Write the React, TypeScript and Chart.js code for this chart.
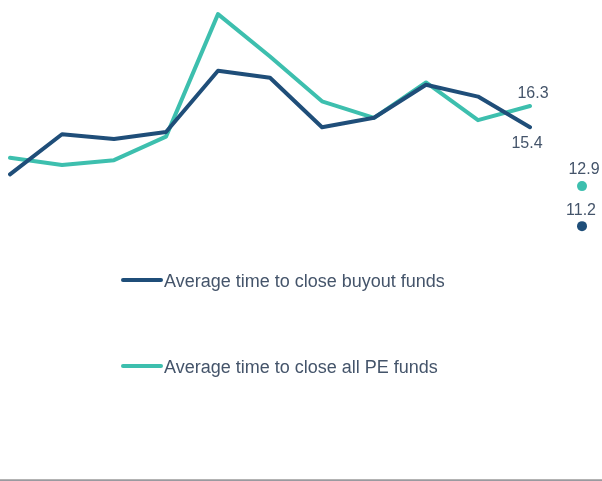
import React, { useEffect, useRef } from "react";
import { Chart, registerables } from "chart.js";

Chart.register(...registerables);

const categories = ["2011", "2012", "2013", "2014", "2015", "2016", "2017", "2018", "2019", "2020", "2021", "2022 YTD"];
const buyoutTimes = [13.4, 15.1, 14.9, 15.2, 17.8, 17.5, 15.4, 15.8, 17.2, 16.7, 15.4];
const allPeTimes = [14.1, 13.8, 14.0, 15.0, 20.2, 18.4, 16.5, 15.8, 17.3, 15.7, 16.3];
const latestBuyout = 11.2;
const latestAllPe = 12.9;
const seriesNames = ["Average time to close buyout funds", "Average time to close all PE funds"];

const NAVY = "#1f4e79";
const TEAL = "#3dbfae";
const TEXT = "#44546a";
const FONT = "'Liberation Sans', Arial, sans-serif";

const lastOnly = (v: number) => categories.map((_, i) => (i === categories.length - 1 ? v : null));

const labelPlugin = {
  id: "endLabels",
  afterDatasetsDraw(chart: any) {
    const ctx = chart.ctx;
    ctx.save();
    ctx.font = `16px ${FONT}`;
    ctx.fillStyle = TEXT;
    ctx.textAlign = "center";
    ctx.textBaseline = "alphabetic";
    chart.data.datasets.forEach((ds: any, di: number) => {
      if (!ds.endLabel) return;
      const meta = chart.getDatasetMeta(di);
      let idx = -1;
      ds.data.forEach((v: any, i: number) => {
        if (v !== null && v !== undefined) idx = i;
      });
      if (idx < 0) return;
      const el = meta.data[idx];
      const val = ds.data[idx];
      const { pos, dx, gap } = ds.endLabel;
      const y = pos === "above" ? el.y - gap : el.y + gap;
      ctx.fillText(val.toFixed(1), el.x + dx, y);
    });
    ctx.restore();
  },
};

const legendPlugin = {
  id: "midLegend",
  afterDraw(chart: any) {
    const ctx = chart.ctx;
    const items = [
      { color: NAVY, text: seriesNames[0], y: 280 },
      { color: TEAL, text: seriesNames[1], y: 366 },
    ];
    ctx.save();
    items.forEach((it) => {
      ctx.strokeStyle = it.color;
      ctx.lineWidth = 4;
      ctx.lineCap = "round";
      ctx.beginPath();
      ctx.moveTo(123, it.y);
      ctx.lineTo(161, it.y);
      ctx.stroke();
      ctx.font = `18px ${FONT}`;
      ctx.fillStyle = TEXT;
      ctx.textAlign = "left";
      ctx.textBaseline = "alphabetic";
      ctx.fillText(it.text, 164, it.y + 7);
    });
    // baseline axis rule across the full width
    ctx.fillStyle = "#b3b3b3";
    ctx.fillRect(0, 479, chart.width, 1);
    ctx.fillStyle = "#9a9aa0";
    ctx.fillRect(0, 480, chart.width, 1);
    ctx.restore();
  },
};

export default function App() {
  const ref = useRef<HTMLCanvasElement | null>(null);

  useEffect(() => {
    if (!ref.current) return;
    const chart = new Chart(ref.current, {
      type: "line",
      data: {
        labels: categories,
        datasets: [
          {
            label: seriesNames[0],
            data: buyoutTimes,
            borderColor: NAVY,
            backgroundColor: NAVY,
            borderWidth: 4,
            pointRadius: 0,
            tension: 0,
            borderCapStyle: "round",
            borderJoinStyle: "round",
            endLabel: { pos: "below", dx: -3, gap: 21 },
          } as any,
          {
            label: seriesNames[1],
            data: allPeTimes,
            borderColor: TEAL,
            backgroundColor: TEAL,
            borderWidth: 4,
            pointRadius: 0,
            tension: 0,
            borderCapStyle: "round",
            borderJoinStyle: "round",
            endLabel: { pos: "above", dx: 3, gap: 8 },
          } as any,
          {
            label: seriesNames[0] + " (latest)",
            data: lastOnly(latestBuyout),
            showLine: false,
            pointRadius: 5,
            pointBackgroundColor: NAVY,
            pointBorderColor: NAVY,
            pointBorderWidth: 0,
            endLabel: { pos: "above", dx: -1, gap: 11 },
          } as any,
          {
            label: seriesNames[1] + " (latest)",
            data: lastOnly(latestAllPe),
            showLine: false,
            pointRadius: 5,
            pointBackgroundColor: TEAL,
            pointBorderColor: TEAL,
            pointBorderWidth: 0,
            endLabel: { pos: "above", dx: 2, gap: 12 },
          } as any,
        ],
      },
      options: {
        responsive: false,
        animation: false,
        devicePixelRatio: 1,
        layout: { autoPadding: false, padding: { left: 10, right: 20, top: 0, bottom: 2 } },
        scales: {
          x: { display: false, offset: false },
          y: { display: false, min: 0, max: 20.8 },
        },
        plugins: {
          legend: { display: false },
          tooltip: { enabled: false },
        },
        elements: { line: { clip: false } as any },
      },
      plugins: [labelPlugin, legendPlugin],
    } as any);
    return () => chart.destroy();
  }, []);

  return (
    <div
      style={{
        position: "fixed",
        left: 0,
        top: 0,
        width: 602,
        height: 481,
        overflow: "hidden",
        background: "#fff",
      }}
    >
      <canvas ref={ref} width={602} height={492} style={{ display: "block" }} />
    </div>
  );
}
